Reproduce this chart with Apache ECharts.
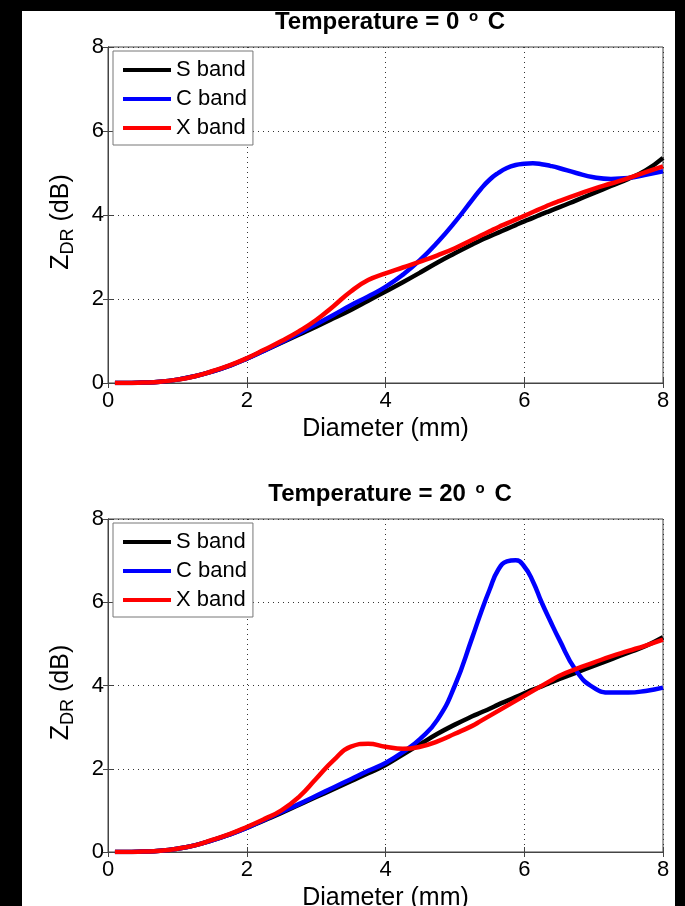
<!DOCTYPE html>
<html>
<head>
<meta charset="utf-8">
<script src="https://cdn.jsdelivr.net/npm/echarts@6/dist/echarts.min.js"></script>
<style>
  html, body { margin: 0; padding: 0; background: #000; }
  #chart { width: 685px; height: 906px; }
</style>
</head>
<body>
<div id="chart"></div>
<script>
// diameters (mm) shared by all curves, finer around the C band peak
var diameters = [0.1, 0.25, 0.5, 0.75, 1, 1.25, 1.5, 1.75, 2, 2.25, 2.5, 2.75, 3, 3.25, 3.5, 3.75, 4, 4.25, 4.5, 4.75, 5, 5.25,
  5.375, 5.5, 5.625, 5.75, 5.875, 6, 6.125, 6.25, 6.375, 6.5,
  6.75, 7, 7.25, 7.5, 7.75, 8]
var bandNames = ['S band', 'C band', 'X band']
var titles = ['0', '20']

// Temperature = 0 C
var sBand0 = [0, 0, 0.01, 0.03, 0.08, 0.16, 0.27, 0.41, 0.58, 0.77, 0.96, 1.15, 1.34, 1.54, 1.74, 1.96, 2.18, 2.4, 2.63, 2.87, 3.09, 3.3,
  3.4, 3.49, 3.58, 3.67, 3.76, 3.85, 3.93, 4.02, 4.1, 4.18,
  4.35, 4.52, 4.69, 4.86, 5.06, 5.36]
var cBand0 = [0, 0, 0.01, 0.03, 0.08, 0.16, 0.27, 0.41, 0.58, 0.77, 0.97, 1.18, 1.4, 1.62, 1.85, 2.06, 2.29, 2.58, 2.93, 3.35, 3.83, 4.36,
  4.62, 4.84, 5.0, 5.12, 5.19, 5.22, 5.23, 5.21, 5.17, 5.12,
  5.0, 4.9, 4.86, 4.88, 4.96, 5.04]
var xBand0 = [0, 0, 0.01, 0.03, 0.08, 0.16, 0.28, 0.42, 0.59, 0.79, 1.0, 1.23, 1.5, 1.83, 2.18, 2.45, 2.61, 2.75, 2.89, 3.04, 3.21, 3.41,
  3.51, 3.61, 3.71, 3.8, 3.89, 3.98, 4.07, 4.16, 4.25, 4.33,
  4.48, 4.62, 4.75, 4.88, 5.02, 5.16]

// Temperature = 20 C
var sBand20 = [0, 0, 0.01, 0.03, 0.08, 0.16, 0.28, 0.42, 0.58, 0.76, 0.94, 1.13, 1.32, 1.51, 1.7, 1.89, 2.09, 2.34, 2.59, 2.84, 3.06, 3.26,
  3.35, 3.44, 3.54, 3.63, 3.72, 3.81, 3.9, 3.98, 4.07, 4.15,
  4.31, 4.47, 4.63, 4.79, 4.95, 5.16]
var cBand20 = [0, 0, 0.01, 0.03, 0.08, 0.16, 0.28, 0.42, 0.58, 0.77, 0.96, 1.15, 1.35, 1.55, 1.75, 1.95, 2.14, 2.4, 2.72, 3.18, 4.0, 5.15,
  5.75, 6.3, 6.78, 6.98, 7.01, 6.86, 6.5, 6.0, 5.55, 5.12,
  4.35, 3.95, 3.83, 3.83, 3.87, 3.95]
var xBand20 = [0, 0, 0.01, 0.03, 0.08, 0.16, 0.29, 0.43, 0.6, 0.79, 1.0, 1.32, 1.76, 2.2, 2.53, 2.6, 2.53, 2.48, 2.53, 2.66, 2.84, 3.03,
  3.15, 3.27, 3.39, 3.51, 3.63, 3.75, 3.87, 3.99, 4.11, 4.23,
  4.4, 4.55, 4.7, 4.83, 4.96, 5.1]

var bandColors = ['#000000', '#0000ff', '#ff0000']
var panels = [[sBand0, cBand0, xBand0], [sBand20, cBand20, xBand20]]
var gridTops = [47, 519]
var gridHeights = [336, 333]
var font = 'Liberation Sans, Arial, Helvetica, sans-serif'

function pairs(vals) {
  return diameters.map(function (d, i) { return [d, vals[i]] })
}

var chart = echarts.init(document.getElementById('chart'), null, { renderer: 'canvas' })

var grid = []
var xAxis = []
var yAxis = []
var series = []
var title = []
var legend = []

gridTops.forEach(function (top, g) {
  grid.push({
    left: 108,
    right: 22,
    top: top,
    height: gridHeights[g],
    containLabel: false,
    outerBoundsMode: 'none',
    show: true,
    backgroundColor: '#fff',
    borderColor: '#444',
    borderWidth: 1
  })
  title.push({
    text: '{a|Temperature = ' + titles[g] + ' }{s|o}{a| C}',
    left: 385,
    textAlign: 'center',
    top: top - 47,
    textStyle: {
      rich: {
        a: { fontFamily: font, fontSize: 24, fontWeight: 'bold', color: '#000', lineHeight: 29, verticalAlign: 'bottom' },
        s: { fontFamily: font, fontSize: 15, fontWeight: 'bold', color: '#000', lineHeight: 18, verticalAlign: 'top', padding: [4, 3, 0, 3] }
      }
    }
  })
  legend.push({
    data: bandNames,
    orient: 'vertical',
    left: 113,
    top: top + 4,
    icon: 'rect',
    itemWidth: 48,
    itemHeight: 4,
    itemGap: 7,
    padding: [8, 6, 6, 10],
    backgroundColor: '#fff',
    borderColor: '#777',
    borderWidth: 1,
    borderRadius: 0,
    textStyle: { fontFamily: font, fontSize: 22, color: '#000', lineHeight: 22 }
  })
  // main axes (bottom / left)
  xAxis.push({
    type: 'value',
    gridIndex: g,
    min: 0,
    max: 8,
    interval: 2,
    name: 'Diameter (mm)',
    nameLocation: 'middle',
    nameGap: 34,
    nameTextStyle: { fontFamily: font, fontSize: 25, color: '#000' },
    axisLine: { show: true, lineStyle: { color: '#444' } },
    axisTick: { show: true, inside: true, length: 5, lineStyle: { color: '#444' } },
    axisLabel: { fontFamily: font, fontSize: 22, color: '#000', margin: 7 },
    splitLine: { show: true, lineStyle: { color: '#333', type: [1, 4], width: 1 } }
  })
  yAxis.push({
    type: 'value',
    gridIndex: g,
    min: 0,
    max: 8,
    interval: 2,
    name: '{z|Z}{sub|DR}{z| (dB)}',
    nameLocation: 'middle',
    nameRotate: 90,
    nameGap: 31,
    nameTextStyle: {
      padding: [0, 14, 0, 0],
      rich: {
        z: { fontFamily: font, fontSize: 25, color: '#000', lineHeight: 32, verticalAlign: 'middle' },
        sub: { fontFamily: font, fontSize: 18, color: '#000', lineHeight: 18, verticalAlign: 'bottom' }
      }
    },
    axisLine: { show: true, lineStyle: { color: '#444' } },
    axisTick: { show: true, inside: true, length: 5, lineStyle: { color: '#444' } },
    axisLabel: { fontFamily: font, fontSize: 22, color: '#000', margin: 4 },
    splitLine: { show: true, lineStyle: { color: '#333', type: [1, 4], width: 1 } }
  })
})

// mirrored ticks on top / right, like the matlab box
gridTops.forEach(function (top, g) {
  xAxis.push({
    type: 'value', gridIndex: g, position: 'top', min: 0, max: 8, interval: 2,
    axisLine: { show: true, lineStyle: { color: '#444' } },
    axisTick: { show: true, inside: true, length: 5, lineStyle: { color: '#444' } },
    axisLabel: { show: false },
    splitLine: { show: false }
  })
  yAxis.push({
    type: 'value', gridIndex: g, position: 'right', min: 0, max: 8, interval: 2,
    axisLine: { show: true, lineStyle: { color: '#444' } },
    axisTick: { show: true, inside: true, length: 5, lineStyle: { color: '#444' } },
    axisLabel: { show: false },
    splitLine: { show: false }
  })
})

panels.forEach(function (bands, g) {
  bands.forEach(function (vals, b) {
    series.push({
      name: bandNames[b],
      type: 'line',
      xAxisIndex: g,
      yAxisIndex: g,
      data: pairs(vals),
      smooth: 0.5,
      symbol: 'none',
      showSymbol: false,
      z: 2 + b,
      color: bandColors[b],
      lineStyle: { width: 4.5, color: bandColors[b] }
    })
  })
})

chart.setOption({
  backgroundColor: '#000',
  animation: false,
  graphic: [{
    type: 'rect',
    silent: true,
    z: -100,
    shape: { x: 22, y: 11, width: 653, height: 895 },
    style: { fill: '#fff' }
  }],
  title: title,
  legend: legend,
  grid: grid,
  xAxis: xAxis,
  yAxis: yAxis,
  series: series
})
</script>
</body>
</html>
